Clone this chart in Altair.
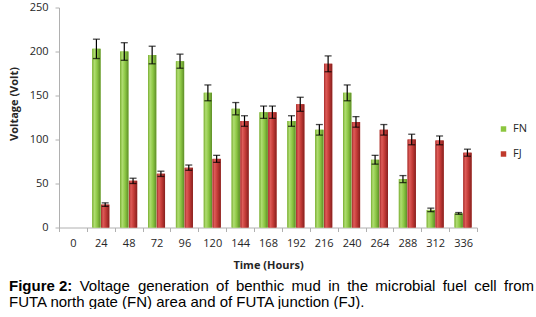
import altair as alt
import pandas as pd

# ---------------- data ----------------
hours = ["0", "24", "48", "72", "96", "120", "144", "168", "192", "216",
         "240", "264", "288", "312", "336"]
series_names = ["FN", "FJ"]
fn_values = [None, 203, 200, 196, 189, 153, 135, 131, 121, 111, 153, 77, 55, 20, 16]
fn_errors = [None, 11, 10, 10, 8, 9, 7, 7, 6, 6, 9, 5, 4, 2, 1]
fj_values = [None, 26, 53, 61, 68, 78, 121, 131, 140, 186, 120, 111, 100, 99, 85]
fj_errors = [None, 2, 3, 3, 3, 4, 6, 7, 8, 9, 6, 6, 6, 5, 4]
y_ticks = [0, 50, 100, 150, 200, 250]

caption_bold = "Figure 2:"
caption_line1_words = ["Voltage", "generation", "of", "benthic", "mud", "in", "the",
                       "microbial", "fuel", "cell", "from"]
caption_line2 = "FUTA north gate (FN) area and of FUTA junction (FJ)."

# ---------------- layout (pixels) ----------------
PAD_L, PAD_T, PAD_R, PAD_B = 59, 7.5, 59, 81.5
W, H = 418, 220
CAP_SIZE = 15
CAP_LEFT, CAP_RIGHT = 9, 534
LINE1_BASE, LINE2_BASE = 291, 307

# Arial / Liberation Sans advance widths (per 1000 em) for justifying line 1
_ARIAL = {"V": 667, "o": 556, "l": 222, "t": 278, "a": 556, "g": 556, "e": 556,
          "n": 556, "r": 333, "i": 222, "f": 278, "b": 556, "h": 556, "c": 500,
          "m": 833, "u": 556, "d": 556}
BOLD_WIDTH_EM = 4.223  # "Figure 2:" in Arial Bold


def _w(word):
    return sum(_ARIAL.get(ch, 556) for ch in word) / 1000 * CAP_SIZE


bold_w = BOLD_WIDTH_EM * CAP_SIZE
word_ws = [_w(w) for w in caption_line1_words]
gap = (CAP_RIGHT - CAP_LEFT - bold_w - sum(word_ws)) / len(caption_line1_words)
caption_word_x = []
cur = CAP_LEFT + bold_w + gap
for ww in word_ws:
    caption_word_x.append(cur)
    cur += ww + gap

rows = []
for name, vals, errs in (("FN", fn_values, fn_errors), ("FJ", fj_values, fj_errors)):
    for h, v, e in zip(hours, vals, errs):
        if v is None:
            continue
        rows.append({"hour": h, "series": name, "v": v, "lo": v - e, "hi": v + e})
df = pd.DataFrame(rows)

FONT = "Open Sans"

x_enc = alt.X("hour:N", title="Time (Hours)",
              scale=alt.Scale(domain=hours, paddingInner=0, paddingOuter=0),
              axis=alt.Axis(labelAngle=0, tickBand="extent", tickSize=4,
                            domainColor="#b0b0b0", tickColor="#b0b0b0",
                            labelFontSize=11, labelColor="#262626", labelPadding=6,
                            titleFontSize=11, titleFontWeight="bold", titleColor="#262626",
                            titlePadding=11, labelFont=FONT, titleFont=FONT))
xo_enc = alt.XOffset("series:N",
                     scale=alt.Scale(domain=series_names, paddingOuter=0.62, paddingInner=0.06))


def y_enc(field):
    return alt.Y(f"{field}:Q", title="Voltage (Volt)",
                 scale=alt.Scale(domain=[0, 250], nice=False),
                 axis=alt.Axis(values=y_ticks, grid=False, tickSize=4,
                               domainColor="#b0b0b0", tickColor="#b0b0b0",
                               labelFontSize=11, labelColor="#262626", labelPadding=7,
                               titleFontSize=11, titleFontWeight="bold", titleColor="#262626",
                               titleX=-40, titleY=96, labelFont=FONT, titleFont=FONT))


base = alt.Chart(df)

bars = base.mark_bar().encode(
    x=x_enc, xOffset=xo_enc, y=y_enc("v"),
    color=alt.Color("series:N",
                    scale=alt.Scale(domain=series_names, range=["#8cc63f", "#c0392b"]),
                    legend=alt.Legend(title=None, orient="none", legendX=439, legendY=116,
                                      symbolType="square", symbolSize=30,
                                      labelFontSize=11, labelColor="#262626", labelFont=FONT,
                                      rowPadding=13, labelOffset=4)),
)

grad_fn = alt.Gradient(gradient="linear", x1=0, x2=1, y1=0, y2=0, stops=[
    alt.GradientStop(color="#79ad32", offset=0),
    alt.GradientStop(color="#b0dd72", offset=0.25),
    alt.GradientStop(color="#8cc744", offset=0.6),
    alt.GradientStop(color="#5e8e28", offset=1),
])
grad_fj = alt.Gradient(gradient="linear", x1=0, x2=1, y1=0, y2=0, stops=[
    alt.GradientStop(color="#a52b2b", offset=0),
    alt.GradientStop(color="#de5c58", offset=0.25),
    alt.GradientStop(color="#c23a36", offset=0.6),
    alt.GradientStop(color="#87201f", offset=1),
])

over_fn = base.transform_filter(alt.datum.series == "FN").mark_bar(color=grad_fn).encode(
    x=x_enc, xOffset=xo_enc, y=y_enc("v"))
over_fj = base.transform_filter(alt.datum.series == "FJ").mark_bar(color=grad_fj).encode(
    x=x_enc, xOffset=xo_enc, y=y_enc("v"))

err_rule = base.mark_rule(color="black", strokeWidth=1.2).encode(
    x=x_enc, xOffset=xo_enc, y=y_enc("lo"), y2="hi:Q")
cap_hi = base.mark_tick(color="black", size=7, thickness=1.3, orient="horizontal").encode(
    x=x_enc, xOffset=xo_enc, y=y_enc("hi"))
cap_lo = base.mark_tick(color="black", size=7, thickness=1.3, orient="horizontal").encode(
    x=x_enc, xOffset=xo_enc, y=y_enc("lo"))

# caption
CAP_FONT = "Liberation Sans"
cap_df1 = pd.DataFrame({"w": caption_line1_words,
                        "px": [xx - PAD_L for xx in caption_word_x]})
cap_bold = alt.Chart(pd.DataFrame({"t": [caption_bold]})).mark_text(
    align="left", baseline="alphabetic", font=CAP_FONT, fontSize=CAP_SIZE, fontWeight="bold",
    color="black").encode(text="t:N", x=alt.value(CAP_LEFT - PAD_L),
                          y=alt.value(LINE1_BASE - PAD_T))
cap_words = alt.Chart(cap_df1).mark_text(
    align="left", baseline="alphabetic", font=CAP_FONT, fontSize=CAP_SIZE, color="black").encode(
    text="w:N", x=alt.X("px:Q", scale=None), y=alt.value(LINE1_BASE - PAD_T))
cap_line2 = alt.Chart(pd.DataFrame({"t": [caption_line2]})).mark_text(
    align="left", baseline="alphabetic", font=CAP_FONT, fontSize=CAP_SIZE, color="black").encode(
    text="t:N", x=alt.value(CAP_LEFT - PAD_L), y=alt.value(LINE2_BASE - PAD_T))

chart = alt.layer(bars, over_fn, over_fj, err_rule, cap_hi, cap_lo,
                  cap_bold, cap_words, cap_line2).properties(
    width=W, height=H,
    autosize=alt.AutoSizeParams(type="none"),
    padding={"left": PAD_L, "top": PAD_T, "right": PAD_R, "bottom": PAD_B},
    background="white",
).configure_view(stroke=None)

chart.save("out.html", embed_options={"renderer": "svg", "actions": False})
